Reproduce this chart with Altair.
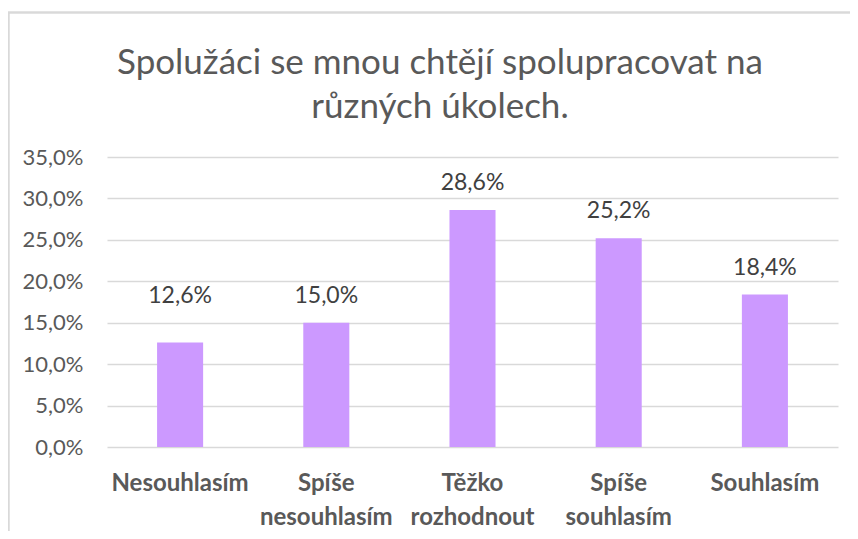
import altair as alt
import pandas as pd

categories = ["Nesouhlasím", "Spíše nesouhlasím", "Těžko rozhodnout", "Spíše souhlasím", "Souhlasím"]
values = [12.6, 15.0, 28.6, 25.2, 18.4]
# data-label anchor heights (the first label sits at the same height as the second in the original)
label_at = [15.0, 15.0, 28.6, 25.2, 18.4]
y_ticks = [0, 5, 10, 15, 20, 25, 30, 35]
title_lines = ["Spolužáci se mnou chtějí spolupracovat na", "různých úkolech."]

df = pd.DataFrame({
    "cat": categories,
    "val": [v / 100 for v in values],
    "lab": [v / 100 for v in label_at],
    "txt": [f"{v:.1f}".replace(".", ",") + "%" for v in values],
})

FONT = "Lato"

x_enc = alt.X(
    "cat:N", sort=categories, title=None,
    scale=alt.Scale(paddingInner=0.685, paddingOuter=0.3425),
    axis=alt.Axis(
        labelAngle=0, labelExpr="split(datum.label, ' ')", labelFont=FONT,
        labelFontSize=24, labelFontWeight="bold", labelColor="#595959",
        labelPadding=24, labelLineHeight=34, labelBaseline="top",
        ticks=False, domain=False, grid=False, labelLimit=300,
    ),
)

y_scale = alt.Scale(domain=[0, 0.35], nice=False)

bars = alt.Chart(df).mark_bar(color="#CC99FF").encode(
    x=x_enc,
    y=alt.Y(
        "val:Q", scale=y_scale, title=None,
        axis=alt.Axis(
            values=[t / 100 for t in y_ticks],
            labelExpr="replace(format(datum.value * 100, '.1f'), '.', ',') + '%'",
            labelFont=FONT, labelFontSize=22, labelColor="#595959",
            labelPadding=24, ticks=False, domain=False,
            gridColor="#d9d9d9", gridWidth=1.5,
        ),
    ),
)

labels = alt.Chart(df).mark_text(
    font=FONT, fontSize=23, color="#404040", dy=-27, baseline="middle"
).encode(
    x=alt.X("cat:N", sort=categories),
    y=alt.Y("lab:Q", scale=y_scale),
    text="txt:N",
)

border = alt.Chart(df).mark_rect(
    fill=None, stroke="#d9d9d9", strokeWidth=1.5
).encode(
    x=alt.value(-98.5), x2=alt.value(900), y=alt.value(-144.5), y2=alt.value(500)
)

title1 = alt.Chart(pd.DataFrame({"t": [title_lines[0]]})).mark_text(
    font=FONT, fontSize=35, color="#595959", baseline="alphabetic", align="center"
).encode(x=alt.value(333), y=alt.value(-83), text="t:N")

title2 = alt.Chart(pd.DataFrame({"t": [title_lines[1]]})).mark_text(
    font=FONT, fontSize=35, color="#595959", baseline="alphabetic", align="center"
).encode(x=alt.value(333), y=alt.value(-39), text="t:N")

chart = alt.layer(border, bars, labels, title1, title2).properties(
    width=731,
    height=290,
    padding={"left": 99, "top": 149, "right": 12, "bottom": 84},
    autosize=alt.AutoSizeParams(type="none"),
).configure_view(stroke=None)

chart.save("out.html", embed_options={"renderer": "svg", "actions": False})
